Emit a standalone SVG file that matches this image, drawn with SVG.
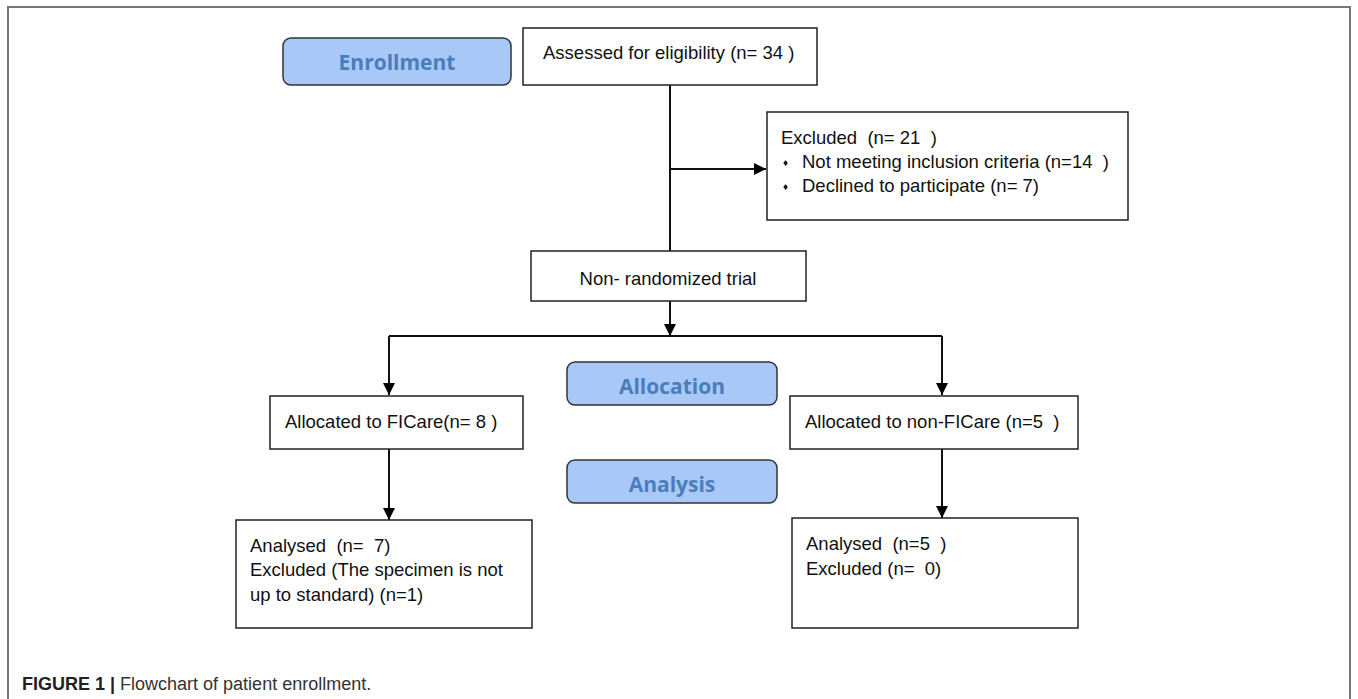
<svg xmlns="http://www.w3.org/2000/svg" width="1358" height="699" viewBox="0 0 1358 699">
<defs>
<marker id="arr" viewBox="0 0 10 10" refX="10" refY="5" markerWidth="12" markerHeight="12" markerUnits="userSpaceOnUse" orient="auto">
<path d="M0,0 L10,5 L0,10 z" fill="#000"/>
</marker>
<style>
.box{fill:#fff;stroke:#222;stroke-width:1.5}
.lab{fill:#a8c8f8;stroke:#333;stroke-width:1.5}
.t{font-family:"Liberation Sans",Arial,sans-serif;font-size:18.5px;fill:#111}
.b{font-family:"Liberation Sans",Arial,sans-serif;font-size:10px;fill:#111}
.lt{font-family:"Open Sans","Noto Sans",sans-serif;font-weight:bold;font-size:21px;fill:#4a7ebb;text-anchor:middle}
.c{stroke:#111;stroke-width:2;fill:none}
.cap{font-family:"Liberation Sans",Arial,sans-serif;font-size:18px;fill:#333}
</style>
</defs>
<rect width="1358" height="699" fill="#fff"/>
<path d="M8,699 L8,7 L1350,7 L1350,699" fill="none" stroke="#777" stroke-width="2"/>
<g id="connectors">
<line class="c" x1="670" y1="85" x2="670" y2="251"/>
<line class="c" x1="670" y1="169" x2="766" y2="169" marker-end="url(#arr)"/>
<line class="c" x1="670" y1="301" x2="670" y2="336" marker-end="url(#arr)"/>
<line class="c" x1="389" y1="336" x2="942" y2="336"/>
<line class="c" x1="389" y1="336" x2="389" y2="395" marker-end="url(#arr)"/>
<line class="c" x1="942" y1="336" x2="942" y2="395" marker-end="url(#arr)"/>
<line class="c" x1="389" y1="449" x2="389" y2="520" marker-end="url(#arr)"/>
<line class="c" x1="942" y1="449" x2="942" y2="518" marker-end="url(#arr)"/>
</g>
<g id="enrollment">
<rect class="lab" x="283" y="38" width="228" height="47" rx="8"/>
<text class="lt" x="397" y="70">Enrollment</text>
</g>
<g id="assessed">
<rect class="box" x="523" y="28" width="294" height="57"/>
<text class="t" x="543" y="59">Assessed for eligibility (n= 34 )</text>
</g>
<g id="excluded">
<rect class="box" x="767" y="112" width="361" height="108"/>
<text class="t" x="781" y="144" xml:space="preserve">Excluded  (n= 21  )</text>
<text class="b" x="783" y="166">♦</text>
<text class="t" x="802" y="168" xml:space="preserve">Not meeting inclusion criteria (n=14  )</text>
<text class="b" x="783" y="190">♦</text>
<text class="t" x="802" y="192">Declined to participate (n= 7)</text>
</g>
<g id="nonrandomized">
<rect class="box" x="531" y="251" width="275" height="50"/>
<text class="t" x="668" y="285" text-anchor="middle">Non- randomized trial</text>
</g>
<g id="allocation">
<rect class="lab" x="567" y="362" width="210" height="43" rx="8"/>
<text class="lt" x="672" y="394">Allocation</text>
</g>
<g id="ficare">
<rect class="box" x="270" y="396" width="253" height="53"/>
<text class="t" x="285" y="428">Allocated to FICare(n= 8 )</text>
</g>
<g id="nonficare">
<rect class="box" x="790" y="396" width="288" height="53"/>
<text class="t" x="805" y="428" xml:space="preserve">Allocated to non-FICare (n=5  )</text>
</g>
<g id="analysis">
<rect class="lab" x="567" y="460" width="210" height="43" rx="8"/>
<text class="lt" x="672" y="492">Analysis</text>
</g>
<g id="analysed-left">
<rect class="box" x="236" y="520" width="296" height="108"/>
<text class="t" x="250" y="552" xml:space="preserve">Analysed  (n=  7)</text>
<text class="t" x="250" y="576">Excluded (The specimen is not</text>
<text class="t" x="250" y="601">up to standard) (n=1)</text>
</g>
<g id="analysed-right">
<rect class="box" x="792" y="518" width="286" height="110"/>
<text class="t" x="806" y="550" xml:space="preserve">Analysed  (n=5  )</text>
<text class="t" x="806" y="575" xml:space="preserve">Excluded (n=  0)</text>
</g>
<text class="cap" x="22" y="690"><tspan font-weight="bold" fill="#222">FIGURE 1 |</tspan> Flowchart of patient enrollment.</text>
</svg>
